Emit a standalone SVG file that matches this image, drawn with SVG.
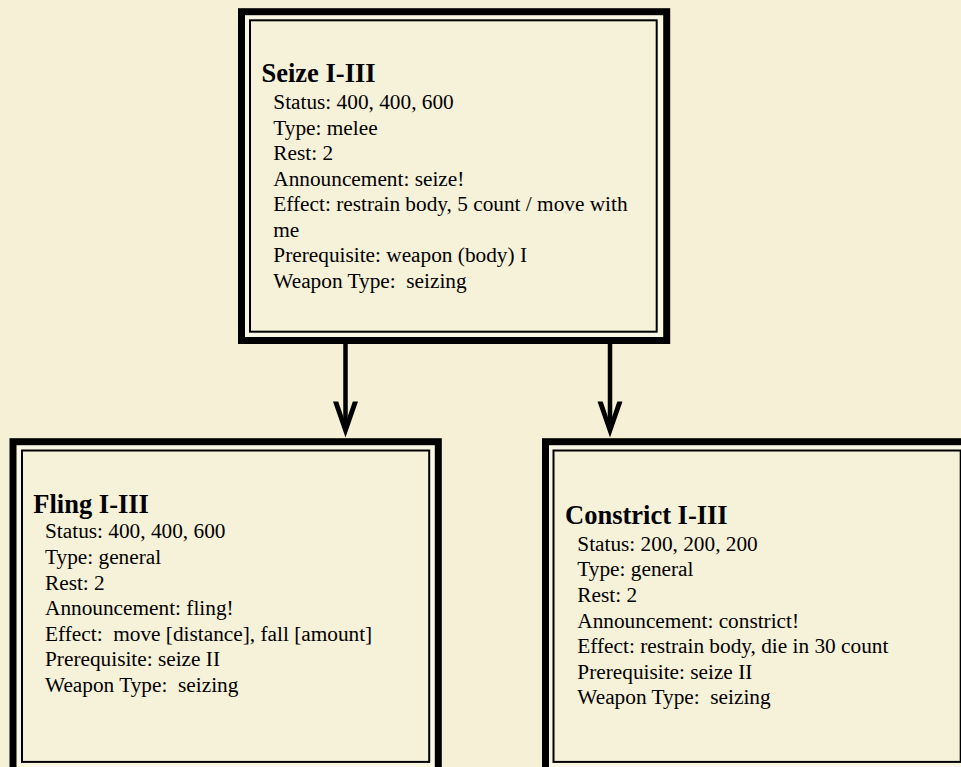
<svg xmlns="http://www.w3.org/2000/svg" width="961" height="767" viewBox="0 0 961 767">
  <defs>
    <style>
      .page { fill: #f5f0d6; }
      .frame { fill: #faf6e4; stroke: #000; stroke-width: 7; }
      .inner { fill: #f6f1d9; stroke: #000; stroke-width: 2; }
      .title { font-family: "Liberation Serif", "Times New Roman", serif; font-weight: bold; font-size: 26.5px; fill: #000; }
      .body { font-family: "Liberation Serif", "Times New Roman", serif; font-size: 21.3px; fill: #000; }
      .shaft { stroke: #000; stroke-width: 4.5; fill: none; }
      .head { fill: #000; }
    </style>
  </defs>

  <!-- paper background -->
  <rect class="page" x="0" y="0" width="961" height="767"/>

  <!-- parent skill -->
  <g id="seize">
    <rect class="frame" x="241.5" y="11.7" width="425.2" height="328.8"/>
    <rect class="inner" x="250" y="20.3" width="406.7" height="311.4"/>
    <text class="title" x="261.5" y="81.7">Seize I-III</text>
    <text class="body" x="273.3" y="109">Status: 400, 400, 600</text>
    <text class="body" x="273.3" y="134.5">Type: melee</text>
    <text class="body" x="273.3" y="160">Rest: 2</text>
    <text class="body" x="273.3" y="185.5">Announcement: seize!</text>
    <text class="body" x="273.3" y="211">Effect: restrain body, 5 count / move with</text>
    <text class="body" x="273.3" y="236.5">me</text>
    <text class="body" x="273.3" y="262">Prerequisite: weapon (body) I</text>
    <text class="body" x="273.3" y="287.5" xml:space="preserve">Weapon Type:  seizing</text>
  </g>

  <!-- child skill: fling -->
  <g id="fling">
    <rect class="frame" x="13" y="441.7" width="425.3" height="328.8"/>
    <rect class="inner" x="22" y="450.5" width="407.2" height="311.4"/>
    <text class="title" x="33.3" y="512.7">Fling I-III</text>
    <text class="body" x="45" y="538.3">Status: 400, 400, 600</text>
    <text class="body" x="45" y="563.9">Type: general</text>
    <text class="body" x="45" y="589.5">Rest: 2</text>
    <text class="body" x="45" y="615.1">Announcement: fling!</text>
    <text class="body" x="45" y="640.7" xml:space="preserve">Effect:  move [distance], fall [amount]</text>
    <text class="body" x="45" y="666.3">Prerequisite: seize II</text>
    <text class="body" x="45" y="691.9" xml:space="preserve">Weapon Type:  seizing</text>
  </g>

  <!-- child skill: constrict -->
  <g id="constrict">
    <rect class="frame" x="545.5" y="441.7" width="425.3" height="328.8"/>
    <rect class="inner" x="553.5" y="450.5" width="407.2" height="311.4"/>
    <text class="title" x="565" y="524.3">Constrict I-III</text>
    <text class="body" x="577.3" y="550.7">Status: 200, 200, 200</text>
    <text class="body" x="577.3" y="576.3">Type: general</text>
    <text class="body" x="577.3" y="601.9">Rest: 2</text>
    <text class="body" x="577.3" y="627.5">Announcement: constrict!</text>
    <text class="body" x="577.3" y="653.1">Effect: restrain body, die in 30 count</text>
    <text class="body" x="577.3" y="678.7">Prerequisite: seize II</text>
    <text class="body" x="577.3" y="704.3" xml:space="preserve">Weapon Type:  seizing</text>
  </g>

  <!-- connectors -->
  <g id="connectors">
    <line class="shaft" x1="345.5" y1="344" x2="345.5" y2="428"/>
    <polygon class="head" points="333,401.5 345.5,437.5 358,401.5 352.8,401.5 345.5,423 338.2,401.5"/>
    <line class="shaft" x1="610" y1="344" x2="610" y2="428"/>
    <polygon class="head" points="597.5,401.5 610,437.5 622.5,401.5 617.3,401.5 610,423 602.7,401.5"/>
  </g>
</svg>
